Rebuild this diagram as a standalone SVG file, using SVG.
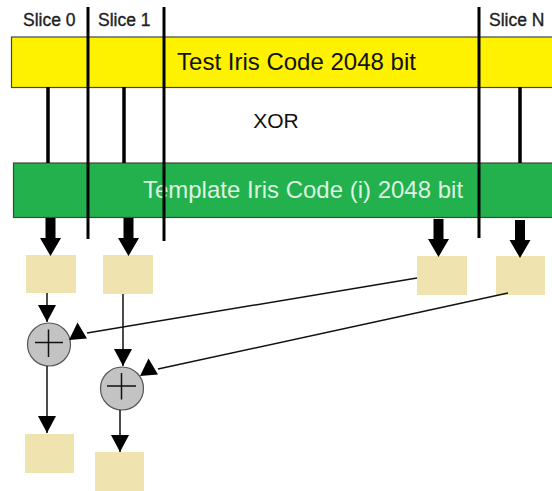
<svg xmlns="http://www.w3.org/2000/svg" width="552" height="491" viewBox="0 0 552 491">
  <style>
    .lbl { font-family: "Liberation Sans", Arial, sans-serif; }
    .slice { font-size: 17.5px; fill: #1e1e1e; stroke: #1e1e1e; stroke-width: 0.35; }
    .bar { stroke: #444; stroke-width: 1.2; }
    .divider { stroke: #000; stroke-width: 3; }
    .xorline { stroke: #000; stroke-width: 3.5; }
    .cell { fill: #efe4b0; }
    .adder { fill: #c3c3c3; stroke: #555; stroke-width: 1.2; }
    .plus { stroke: #111; stroke-width: 1.5; }
    .thin { stroke: #111; stroke-width: 1.5; fill: none; }
  </style>
  <defs>
    <marker id="head" markerUnits="userSpaceOnUse" markerWidth="17" markerHeight="18" refX="17" refY="9" orient="auto">
      <path d="M0,0 L17,9 L0,18 Z" fill="#000"/>
    </marker>
    <marker id="sideHead" markerUnits="userSpaceOnUse" markerWidth="19" markerHeight="19" refX="18" refY="11" orient="0">
      <path d="M0,18 L8.5,0.5 L18,16.5 Z" fill="#000"/>
    </marker>
    <path id="bigArrow" d="M-5,0 H5 V20 H10.5 L0,38 L-10.5,20 H-5 Z" fill="#000"/>
  </defs>

  <!-- slice headings -->
  <g id="slice-labels" class="lbl">
    <text class="slice" x="23" y="26">Slice 0</text>
    <text class="slice" x="98" y="26">Slice 1</text>
    <text class="slice" x="489" y="26">Slice N</text>
  </g>

  <!-- test iris code bar -->
  <g id="test-code">
    <rect class="bar" x="11.5" y="37" width="545" height="50.5" fill="#fff200"/>
    <text class="lbl" x="296.5" y="70" font-size="24" text-anchor="middle" fill="#111">Test Iris Code 2048 bit</text>
  </g>

  <g id="xor-label">
    <text class="lbl" x="276" y="128" font-size="21" text-anchor="middle" fill="#111">XOR</text>
  </g>

  <!-- template iris code bar -->
  <g id="template-code">
    <rect class="bar" x="13.5" y="163" width="545" height="54.5" fill="#22b14c"/>
    <text class="lbl" x="303" y="198" font-size="24" text-anchor="middle" fill="#dcf2e1">Template Iris Code (i) 2048 bit</text>
  </g>

  <!-- slice result cells -->
  <g id="cell-0"><rect class="cell" x="26" y="255" width="50" height="38"/></g>
  <g id="cell-1"><rect class="cell" x="103" y="255" width="50" height="39"/></g>
  <g id="cell-n1"><rect class="cell" x="417" y="256" width="50" height="39"/></g>
  <g id="cell-n"><rect class="cell" x="496" y="256" width="49" height="39"/></g>
  <g id="sum-0"><rect class="cell" x="25" y="434" width="49" height="39"/></g>
  <g id="sum-1"><rect class="cell" x="95" y="452" width="49" height="39"/></g>

  <!-- adders -->
  <g id="adder-0">
    <circle class="adder" cx="49" cy="344.5" r="21.5"/>
    <path class="plus" d="M35,342.5 H63 M48.5,329.5 V357"/>
  </g>
  <g id="adder-1">
    <circle class="adder" cx="122" cy="388.5" r="21.5"/>
    <path class="plus" d="M107,386 H136 M121.5,373 V399.5"/>
  </g>

  <!-- connectors -->
  <g id="connectors">
    <!-- slice boundaries -->
    <line class="divider" x1="88" y1="7" x2="88" y2="239"/>
    <line class="divider" x1="164" y1="7" x2="164" y2="241"/>
    <line class="divider" x1="479" y1="7" x2="479" y2="238"/>
    <!-- XOR links between the two codes -->
    <line class="xorline" x1="48" y1="87" x2="48" y2="163"/>
    <line class="xorline" x1="124" y1="87" x2="124" y2="163"/>
    <line class="xorline" x1="520" y1="87" x2="520" y2="163"/>
    <!-- slice outputs -->
    <use href="#bigArrow" x="50.5" y="218"/>
    <use href="#bigArrow" x="128.5" y="218"/>
    <use href="#bigArrow" x="438.5" y="219"/>
    <use href="#bigArrow" x="520" y="220"/>
    <!-- accumulation -->
    <line class="thin" x1="47" y1="293" x2="47" y2="322" marker-end="url(#head)"/>
    <line class="thin" x1="123" y1="294" x2="123" y2="366" marker-end="url(#head)"/>
    <line class="thin" x1="47" y1="366" x2="47" y2="433" marker-end="url(#head)"/>
    <line class="thin" x1="120" y1="410" x2="120" y2="452" marker-end="url(#head)"/>
    <line class="thin" x1="417" y1="278" x2="87" y2="333" marker-end="url(#sideHead)"/>
    <line class="thin" x1="508" y1="293" x2="158" y2="369" marker-end="url(#sideHead)"/>
  </g>
</svg>
